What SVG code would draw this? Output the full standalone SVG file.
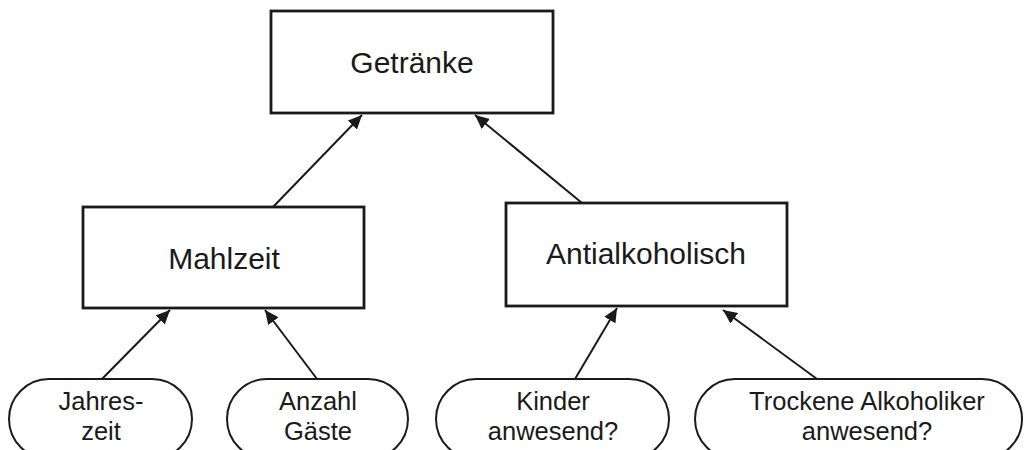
<svg xmlns="http://www.w3.org/2000/svg" width="1025" height="450" viewBox="0 0 1025 450">
  <style>
    .box { fill: #ffffff; stroke: #1a1a1a; stroke-width: 2.8; }
    .pill { fill: #ffffff; stroke: #1a1a1a; stroke-width: 2; }
    .big { font-family: "Liberation Sans", Arial, sans-serif; font-size: 30px; fill: #1a1a1a; text-anchor: middle; }
    .small { font-family: "Liberation Sans", Arial, sans-serif; font-size: 25.5px; fill: #1a1a1a; text-anchor: middle; }
    .edge { stroke: #1a1a1a; stroke-width: 2; fill: none; marker-end: url(#arrow); }
  </style>
  <defs>
    <marker id="arrow" markerUnits="userSpaceOnUse" markerWidth="15" markerHeight="13" refX="14" refY="6.5" orient="auto">
      <path d="M0,0 L14,6.5 L0,13 z" fill="#1a1a1a"/>
    </marker>
  </defs>
  <rect width="1025" height="450" fill="#ffffff"/>

  <g id="connectors">
    <line class="edge" x1="273" y1="207" x2="362" y2="115"/>
    <line class="edge" x1="582" y1="203" x2="475" y2="115"/>
    <line class="edge" x1="102" y1="379" x2="170" y2="310"/>
    <line class="edge" x1="317" y1="379" x2="265" y2="310"/>
    <line class="edge" x1="575" y1="379" x2="617" y2="308"/>
    <line class="edge" x1="817" y1="379" x2="723" y2="310"/>
  </g>

  <g id="getraenke">
    <rect class="box" x="271" y="11" width="282" height="102"/>
    <text class="big" x="412" y="73">Getränke</text>
  </g>

  <g id="mahlzeit">
    <rect class="box" x="83" y="207" width="281" height="101"/>
    <text class="big" x="224" y="269">Mahlzeit</text>
  </g>

  <g id="antialkoholisch">
    <rect class="box" x="506" y="203" width="281" height="103"/>
    <text class="big" x="646" y="264">Antialkoholisch</text>
  </g>

  <g id="jahreszeit">
    <rect class="pill" x="9" y="379" width="183" height="80" rx="40" ry="40"/>
    <text class="small" x="101" y="410">Jahres-</text>
    <text class="small" x="101" y="440">zeit</text>
  </g>

  <g id="anzahl-gaeste">
    <rect class="pill" x="227" y="379" width="181" height="80" rx="40" ry="40"/>
    <text class="small" x="318" y="410">Anzahl</text>
    <text class="small" x="318" y="440">Gäste</text>
  </g>

  <g id="kinder">
    <rect class="pill" x="436" y="379" width="233" height="80" rx="40" ry="40"/>
    <text class="small" x="553" y="410">Kinder</text>
    <text class="small" x="553" y="440">anwesend?</text>
  </g>

  <g id="trockene-alkoholiker">
    <rect class="pill" x="695" y="379" width="327" height="80" rx="40" ry="40"/>
    <text class="small" x="867" y="410">Trockene Alkoholiker</text>
    <text class="small" x="867" y="440">anwesend?</text>
  </g>
</svg>
